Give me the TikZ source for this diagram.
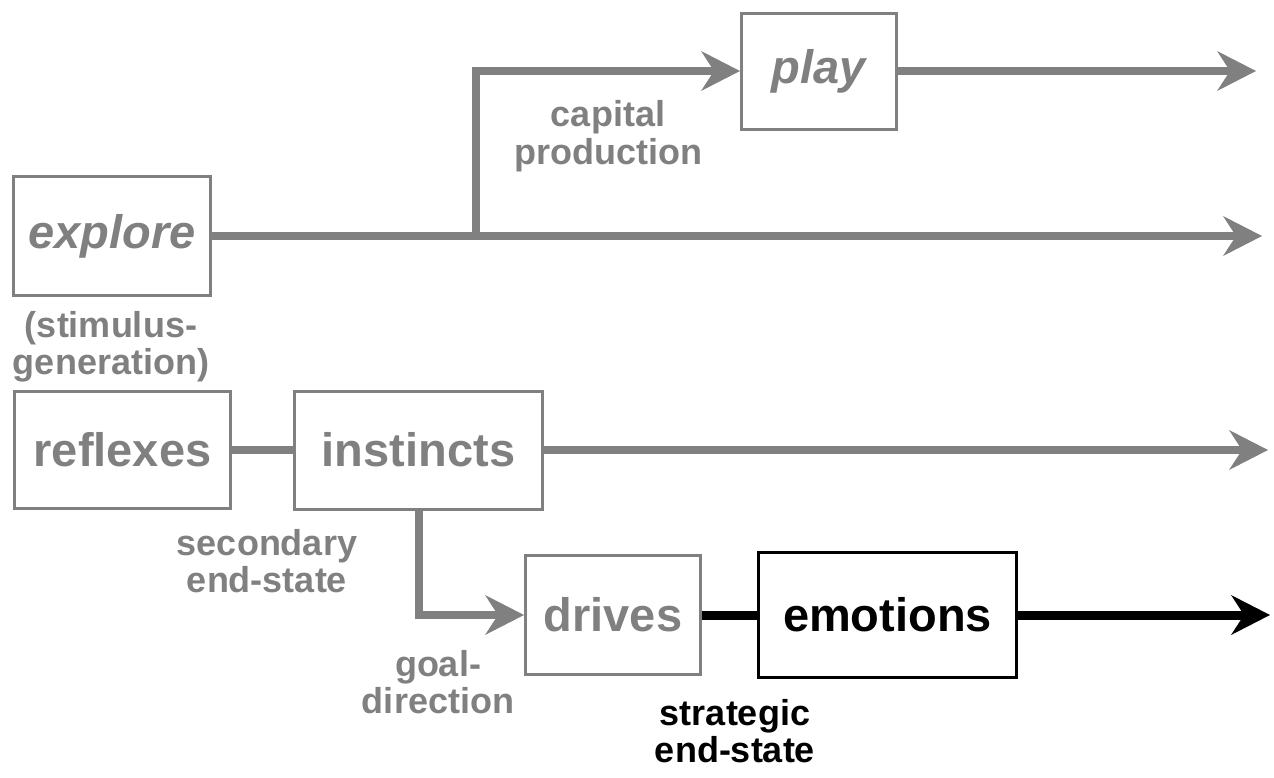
\documentclass[tikz,border=0pt]{standalone}
\usepackage{fontspec}
\setmainfont{Liberation Sans}
\usetikzlibrary{arrows.meta}
\definecolor{flowgray}{RGB}{128,128,128}
\begin{document}
\begin{tikzpicture}[x=1pt,y=-1pt,
  box/.style={draw=flowgray, line width=3pt, inner sep=0pt, text=flowgray,
    font=\fontsize{47}{50}\selectfont\bfseries},
  darkbox/.style={box, draw=black, text=black},
  lbl/.style={inner sep=0pt, align=center, text=flowgray,
    font=\fontsize{36}{37.5}\selectfont\bfseries},
  flow/.style={draw=flowgray, line width=8pt},
  darkflow/.style={draw=black, line width=9pt},
  tip/.style={-{Stealth[length=39pt,width=40pt,inset=13pt,line width=0pt]}}
]
\useasboundingbox (0,0) rectangle (1274,777);

% boxes
\node[box, minimum width=197pt, minimum height=119pt] (explore) at (112,236) {\itshape explore};
\node[box, minimum width=155pt, minimum height=116pt] (play) at (819,71) {\itshape play};
\node[box, minimum width=216pt, minimum height=117pt] (reflexes) at (122.5,450) {reflexes};
\node[box, minimum width=248pt, minimum height=118pt] (instincts) at (418.5,450) {instincts};
\node[box, minimum width=175pt, minimum height=119pt] (drives) at (613,615) {drives};
\node[darkbox, minimum width=258pt, minimum height=125pt] (emotions) at (887.5,615) {emotions};

% free ends and branch point
\coordinate (br) at (476,236);
\coordinate (exploreEnd) at (1262,236);
\coordinate (playEnd) at (1256,71);
\coordinate (instinctsEnd) at (1268,450);
\coordinate (emotionsEnd) at (1270,615);

% connectors
\draw[flow, tip] (explore.east) -- (exploreEnd);
\draw[flow, tip] (br) |- (play.west);
\draw[flow, tip] (play.east) -- (playEnd);
\draw[flow] (reflexes.east) -- (instincts.west);
\draw[flow, tip] (instincts.east) -- (instinctsEnd);
\draw[flow, tip] (instincts.south) |- (drives.west);
\draw[darkflow] (drives.east) -- (emotions.west);
\draw[darkflow, tip] (emotions.east) -- (emotionsEnd);

% labels
\node[lbl] (capital) at (608,136) {capital\\production};
\node[lbl] (stimulus) at (111,347) {(stimulus-\\generation)};
\node[lbl] (secondary) at (267,561) {secondary\\end-state};
\node[lbl] (goal) at (438,682) {goal-\\direction};
\node[lbl, text=black] (strategic) at (735,731) {strategic\\end-state};
\end{tikzpicture}
\end{document}
